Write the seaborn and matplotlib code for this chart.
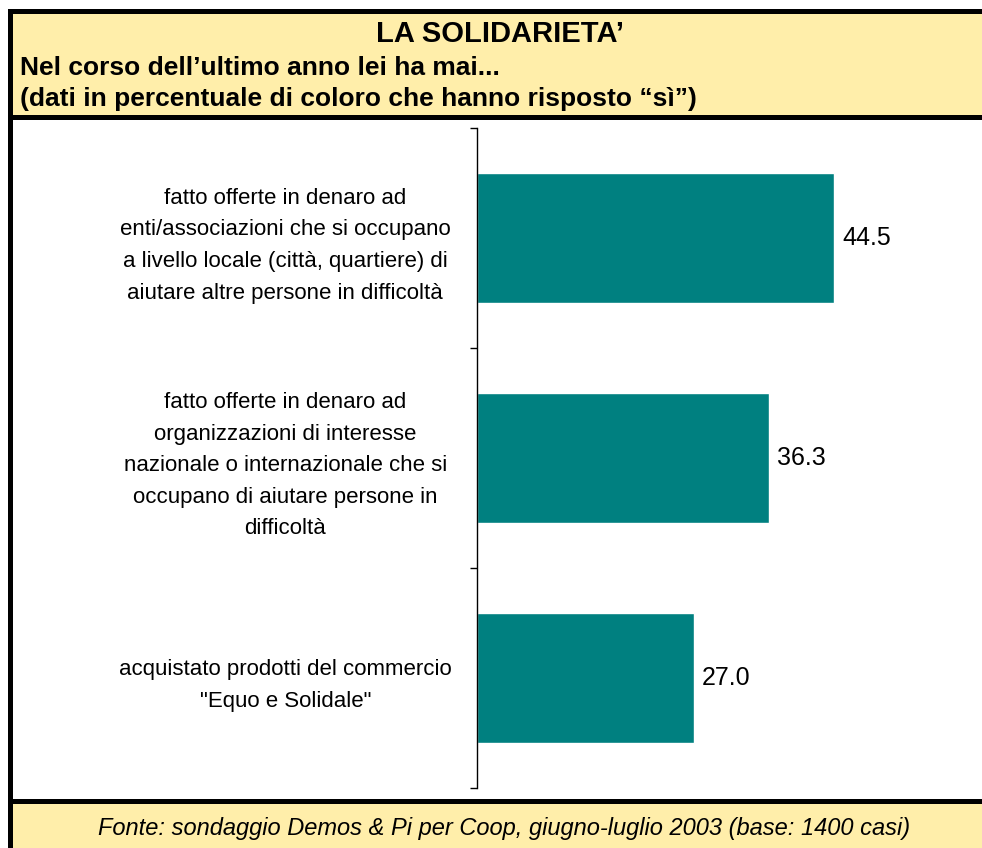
import matplotlib
matplotlib.use("Agg")
import matplotlib.pyplot as plt
from matplotlib.patches import Rectangle
import seaborn as sns

# data
categories = [
    "fatto offerte in denaro ad\nenti/associazioni che si occupano\na livello locale (città, quartiere) di\naiutare altre persone in difficoltà",
    "fatto offerte in denaro ad\norganizzazioni di interesse\nnazionale o internazionale che si\noccupano di aiutare persone in\ndifficoltà",
    "acquistato prodotti del commercio\n\"Equo e Solidale\"",
]
values = [44.5, 36.3, 27.0]

title = "LA SOLIDARIETA\u2019"
subtitle1 = "Nel corso dell\u2019ultimo anno lei ha mai..."
subtitle2 = "(dati in percentuale di coloro che hanno risposto \u201cs\u00ec\u201d)"
source = "Fonte: sondaggio Demos & Pi per Coop, giugno-luglio 2003 (base: 1400 casi)"

YELLOW = "#FFEEAA"
TEAL = "#008080"
W, H = 982, 848

sns.set_theme(style="white")
plt.rcParams['font.family'] = ['Liberation Sans', 'DejaVu Sans']

fig = plt.figure(figsize=(W / 100, H / 100), dpi=100)
fig.patch.set_facecolor("white")


def box(x0, y0, x1, y1, color):
    # rectangle in pixel coords measured from the top-left corner
    fig.add_artist(Rectangle((x0 / W, 1 - y1 / H), (x1 - x0) / W, (y1 - y0) / H,
                             transform=fig.transFigure, facecolor=color,
                             edgecolor="none", zorder=0))


# header / footer panels and frame
box(8, 9, W, 118, YELLOW)
box(8, 801, W, H, YELLOW)
box(8, 9, W, 14, "black")
box(8, 9, 13, H, "black")
box(8, 115, W, 120, "black")
box(8, 799, W, 804, "black")

fig.text(500 / W, 1 - 34 / H, title, ha="center", va="center",
         fontsize=21, fontweight="bold", color="black")
fig.text(20 / W, 1 - 68 / H, subtitle1, ha="left", va="center",
         fontsize=19, fontweight="bold", color="black")
fig.text(20 / W, 1 - 99 / H, subtitle2, ha="left", va="center",
         fontsize=19, fontweight="bold", color="black")
fig.text(504 / W, 1 - 829 / H, source, ha="center", va="center",
         fontsize=17, style="italic", color="black")

ax = fig.add_axes([477 / W, 60 / H, 482 / W, 660 / H])
ax.set_facecolor("none")
sns.barplot(x=values, y=categories, orient="h", color=TEAL, saturation=1,
            width=0.59, ax=ax)

ax.set_xlim(0, 60)
ax.set_ylim(2.5, -0.5)
ax.set_xlabel("")
ax.set_ylabel("")
ax.set_xticks([])

for side in ["top", "right", "bottom"]:
    ax.spines[side].set_visible(False)
ax.spines["left"].set_color("black")
ax.spines["left"].set_linewidth(1.0)

# category labels centred in the left margin, ticks on the category boundaries
ax.tick_params(axis="y", which="major", length=0, pad=138, labelsize=16,
               labelcolor="black")
for lbl in ax.get_yticklabels():
    lbl.set_horizontalalignment("center")
    lbl.set_multialignment("center")
    lbl.set_linespacing(1.66)
ax.set_yticks([-0.5, 0.5, 1.5, 2.5], minor=True)
ax.tick_params(axis="y", which="minor", left=True, length=5, width=1,
               color="black", direction="out")

ax.bar_label(ax.containers[0], fmt="%.1f", padding=6, fontsize=18,
             color="black")

fig.savefig("out.png", dpi=100)
